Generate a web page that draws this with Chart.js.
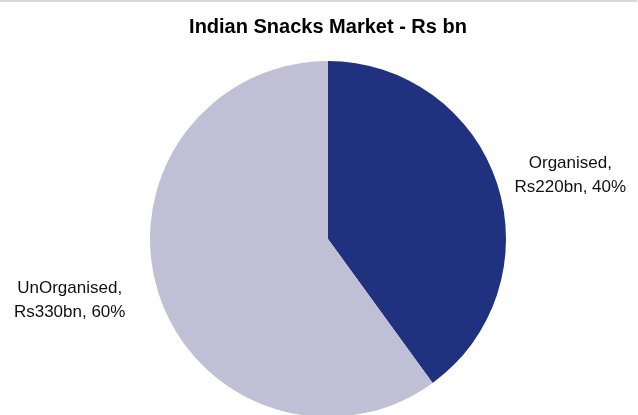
<!DOCTYPE html>
<html>
<head>
<meta charset="utf-8">
<script src="https://cdn.jsdelivr.net/npm/chart.js@4"></script>
<style>
    html, body { margin: 0; padding: 0; background: #fff; overflow: hidden; }
    .wrap { position: relative; width: 638px; height: 420px; }
    .topline { position: absolute; left: 0; top: 0; width: 637px; height: 2px; background: #d9d9d9; }
</style>
</head>
<body>
<div class="wrap">
    <canvas id="snacksChart"></canvas>
    <div class="topline"></div>
</div>
<script>
const segments = ['Organised', 'UnOrganised'];
const valuesBn = [220, 330];
const sharePct = [40, 60];
const sliceColors = ['#203180', '#bfbfd5'];

// Two-line labels drawn just outside each slice
const sliceLabels = {
    id: 'sliceLabels',
    afterDatasetsDraw(chart) {
        const { ctx } = chart;
        const meta = chart.getDatasetMeta(0);
        ctx.save();
        ctx.font = '17px "Liberation Sans", Arial, sans-serif';
        ctx.fillStyle = '#111';
        ctx.textAlign = 'center';
        ctx.textBaseline = 'middle';
        meta.data.forEach((arc, i) => {
            const mid = (arc.startAngle + arc.endAngle) / 2 + 4 * Math.PI / 180;
            const dist = arc.outerRadius + 80;
            const x = arc.x + Math.cos(mid) * dist - 8;
            const y = arc.y + Math.sin(mid) * dist - 1;
            const lines = [segments[i] + ',', 'Rs' + valuesBn[i] + 'bn, ' + sharePct[i] + '%'];
            ctx.fillText(lines[0], x, y - 12);
            ctx.fillText(lines[1], x, y + 12);
        });
        ctx.restore();
    }
};

new Chart(document.getElementById('snacksChart'), {
    type: 'pie',
    data: {
        labels: segments,
        datasets: [{
            data: valuesBn,
            backgroundColor: sliceColors,
            borderWidth: 0,
            hoverOffset: 0
        }]
    },
    options: {
        responsive: true,
        maintainAspectRatio: false,
        animation: false,
        layout: { padding: { left: 18, right: 0, top: 0, bottom: 3 } },
        plugins: {
            legend: { display: false },
            tooltip: { enabled: false },
            title: {
                display: true,
                text: 'Indian Snacks Market - Rs bn',
                color: '#000',
                font: { family: '"Liberation Sans", Arial, sans-serif', size: 20, weight: 'bold', lineHeight: 1.2 },
                padding: { top: 15, bottom: 22 }
            }
        }
    },
    plugins: [sliceLabels]
});
</script>
</body>
</html>
